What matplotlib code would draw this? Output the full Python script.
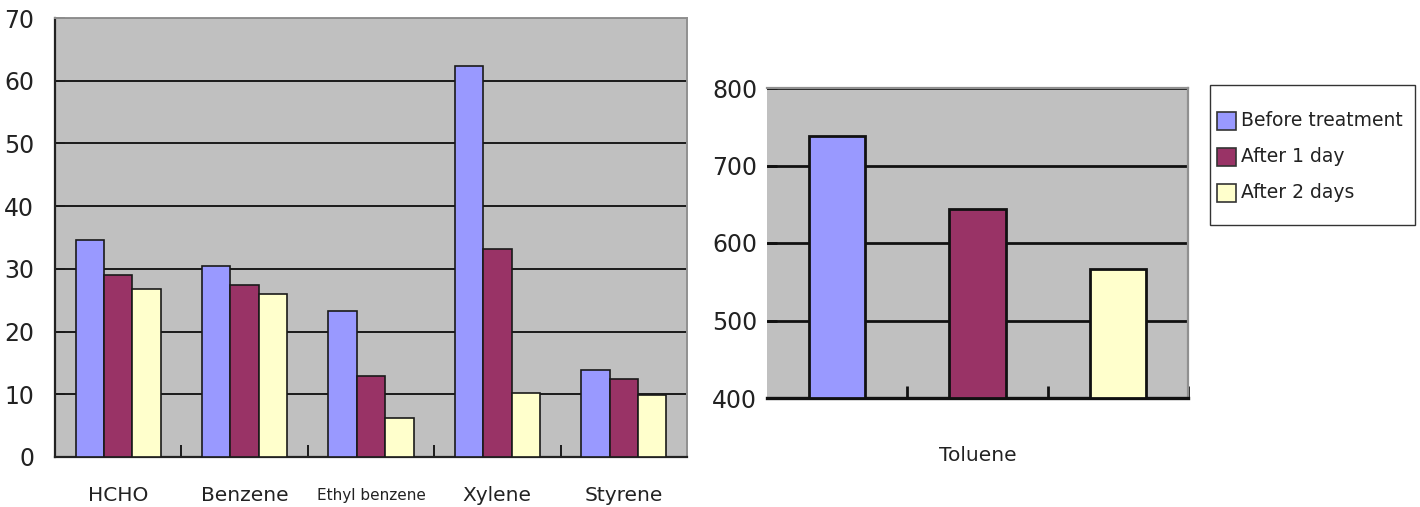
import matplotlib
matplotlib.use("Agg")
import matplotlib.pyplot as plt
import numpy as np
from matplotlib.patches import Rectangle

plt.rcParams['font.family'] = ['DejaVu Sans']

categories = ["HCHO", "Benzene", "Ethyl benzene", "Xylene", "Styrene"]
series_names = ["Before treatment", "After 1 day", "After 2 days"]
before = [34.6, 30.5, 23.3, 62.4, 13.9]
after1 = [29.0, 27.4, 12.9, 33.2, 12.4]
after2 = [26.8, 26.0, 6.2, 10.2, 9.9]

toluene_label = "Toluene"
toluene = [738, 644, 566]

left_ticks = [0, 10, 20, 30, 40, 50, 60, 70]
right_ticks = [400, 500, 600, 700, 800]

colors = ["#9999FF", "#993366", "#FFFFCC"]
bg = "#C0C0C0"
W, H = 1420, 507
fig = plt.figure(figsize=(W / 100, H / 100), dpi=100)

def box(x0, y0, x1, y1):
    return [x0 / W, 1 - y1 / H, (x1 - x0) / W, (y1 - y0) / H]

ax1 = fig.add_axes(box(55, 18, 687, 457))
ax1.set_facecolor(bg)
x = np.arange(len(categories))
bw = 0.225
for i, vals in enumerate([before, after1, after2]):
    ax1.bar(x + (i - 1) * bw, vals, width=bw, color=colors[i], edgecolor="#1a1a1a",
            linewidth=1.2, zorder=3)
ax1.set_xlim(-0.5, len(categories) - 0.5)
ax1.set_ylim(0, 70)
ax1.set_yticks(left_ticks)
ax1.yaxis.grid(True, color="#1a1a1a", linewidth=1.4, zorder=1)
ax1.set_axisbelow(True)
ax1.tick_params(axis='y', direction='in', length=7, width=1.4, color="#1a1a1a",
                labelsize=17, labelcolor="#222222", pad=15)
ax1.set_xticks(np.arange(0.5, len(categories) - 0.5, 1.0), minor=False)
ax1.set_xticklabels([])
ax1.tick_params(axis='x', direction='in', length=9, width=1.4, color="#1a1a1a")
for i, c in enumerate(categories):
    fs = 11 if c == "Ethyl benzene" else 14.5
    ax1.text(i, -6.2, c, ha='center', va='center', fontsize=fs, color="#222222")
for s in ["top", "right"]:
    ax1.spines[s].set_color("#909090")
    ax1.spines[s].set_linewidth(1.4)
for s in ["left", "bottom"]:
    ax1.spines[s].set_color("#222222")
    ax1.spines[s].set_linewidth(1.6)

ax2 = fig.add_axes(box(767, 88, 1188, 398))
ax2.set_facecolor(bg)
x2 = np.arange(len(toluene))
for i, v in enumerate(toluene):
    ax2.bar(x2[i], v - 400, bottom=400, width=0.4, color=colors[i],
            edgecolor="#111111", linewidth=2.0, zorder=3)
ax2.set_xlim(-0.5, 2.5)
ax2.set_ylim(400, 800)
ax2.set_yticks(right_ticks)
ax2.yaxis.grid(True, color="#111111", linewidth=2.0, zorder=1)
ax2.set_axisbelow(True)
ax2.tick_params(axis='y', direction='in', length=7, width=2, color="#111111",
                labelsize=17, labelcolor="#222222", pad=7)
ax2.set_xticks([0.5, 1.5, 2.5])
ax2.set_xticklabels([])
ax2.tick_params(axis='x', direction='in', length=9, width=2, color="#111111")
ax2.text(1, 326, toluene_label, ha='center', va='center', fontsize=14.5, color="#222222")
ax2.spines["left"].set_visible(False)
for s in ["top", "right"]:
    ax2.spines[s].set_color("#909090")
    ax2.spines[s].set_linewidth(1.6)
ax2.spines["bottom"].set_color("#111111")
ax2.spines["bottom"].set_linewidth(2.4)

# legend drawn manually in pixel layout
def fx(px):
    return px / W

def fy(py):
    return 1 - py / H

fig.add_artist(Rectangle((fx(1210), fy(225)), fx(1415) - fx(1210), fy(85) - fy(225),
                         transform=fig.transFigure, facecolor="white",
                         edgecolor="#333333", linewidth=1.0))
for i, name in enumerate(series_names):
    cy = 121 + 36 * i
    fig.add_artist(Rectangle((fx(1217), fy(cy + 9)), fx(1236) - fx(1217), fy(cy - 9) - fy(cy + 9),
                             transform=fig.transFigure, facecolor=colors[i],
                             edgecolor="#333333", linewidth=1.2))
    fig.text(fx(1241), fy(cy), name, ha='left', va='center', fontsize=13.5, color="#222222")

fig.savefig("out.png", dpi=100)
